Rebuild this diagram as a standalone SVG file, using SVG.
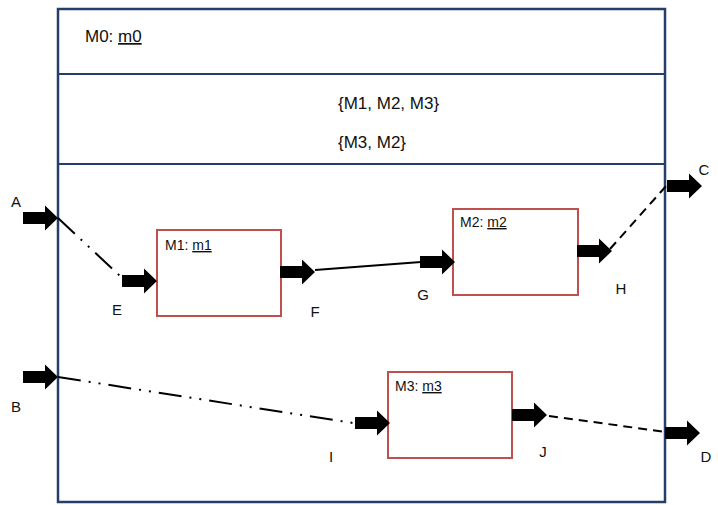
<svg xmlns="http://www.w3.org/2000/svg" xmlns:xlink="http://www.w3.org/1999/xlink" width="718" height="505" viewBox="0 0 718 505">
<style>
.outer{fill:#fff;stroke:#24406a;stroke-width:2.5}
.div{stroke:#24406a;stroke-width:2.2;fill:none}
.comp{fill:#fff;stroke:#c0504d;stroke-width:2}
.t{font-family:"Liberation Sans",Arial,sans-serif;fill:#111}
.big{font-size:17px}
.small{font-size:14px}
.lbl{font-size:15px;text-anchor:middle}
.u{text-decoration:underline}
.ln{fill:none;stroke:#000;stroke-width:2}
.dd{stroke-dasharray:23 8 2 8 2 8}
.da{stroke-dasharray:9 6}
.arw{fill:#000}
</style>
<defs>
<path id="arw" d="M-35,-6 H-13 V-12.5 L0,0 L-13,12.5 V6 H-35 Z"/>
</defs>
<g id="M0">
<rect class="outer" x="58" y="9" width="607" height="493"/>
<line class="div" x1="58" y1="74" x2="665" y2="74"/>
<line class="div" x1="58" y1="164" x2="665" y2="164"/>
<text class="t big" x="85" y="42">M0: <tspan class="u">m0</tspan></text>
<text class="t big" x="338" y="109">{M1, M2, M3}</text>
<text class="t big" x="338" y="148">{M3, M2}</text>
</g>
<g id="M1">
<rect class="comp" x="157" y="230" width="124" height="86"/>
<text class="t small" x="165" y="250">M1: <tspan class="u">m1</tspan></text>
</g>
<g id="M2">
<rect class="comp" x="453" y="209" width="125" height="86"/>
<text class="t small" x="460" y="227">M2: <tspan class="u">m2</tspan></text>
</g>
<g id="M3">
<rect class="comp" x="388" y="372" width="124" height="86"/>
<text class="t small" x="395" y="391">M3: <tspan class="u">m3</tspan></text>
</g>
<g id="connectors">
<line class="ln dd" x1="58" y1="218" x2="120" y2="276"/>
<line class="ln" x1="315" y1="270" x2="421" y2="262"/>
<line class="ln da" x1="610" y1="249" x2="667" y2="185"/>
<line class="ln dd" x1="58" y1="377" x2="353" y2="423"/>
<line class="ln da" x1="549" y1="416" x2="666" y2="432"/>
<use class="arw" href="#arw" xlink:href="#arw" x="58" y="218"/>
<use class="arw" href="#arw" xlink:href="#arw" x="157" y="281"/>
<use class="arw" href="#arw" xlink:href="#arw" x="315" y="272"/>
<use class="arw" href="#arw" xlink:href="#arw" x="455" y="262"/>
<use class="arw" href="#arw" xlink:href="#arw" x="612" y="251"/>
<use class="arw" href="#arw" xlink:href="#arw" x="702" y="186"/>
<use class="arw" href="#arw" xlink:href="#arw" x="58" y="377"/>
<use class="arw" href="#arw" xlink:href="#arw" x="390" y="423"/>
<use class="arw" href="#arw" xlink:href="#arw" x="547" y="415"/>
<use class="arw" href="#arw" xlink:href="#arw" x="700" y="433"/>
</g>
<g id="labels">
<text class="t lbl" x="16" y="207">A</text>
<text class="t lbl" x="117" y="315">E</text>
<text class="t lbl" x="315" y="317">F</text>
<text class="t lbl" x="423" y="300">G</text>
<text class="t lbl" x="621" y="294">H</text>
<text class="t lbl" x="704" y="175">C</text>
<text class="t lbl" x="16" y="412">B</text>
<text class="t lbl" x="331" y="462">I</text>
<text class="t lbl" x="543" y="457">J</text>
<text class="t lbl" x="706" y="462">D</text>
</g>
</svg>
